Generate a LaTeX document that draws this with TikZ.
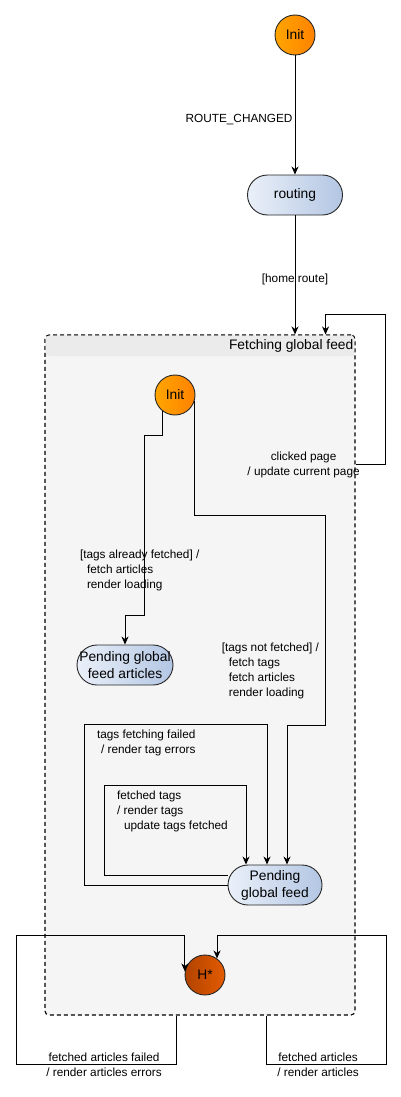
\documentclass[tikz,border=0pt]{standalone}
\usepackage{fontspec}
\setmainfont{Liberation Sans}
\usepackage{tikz}
\usetikzlibrary{arrows.meta,positioning,calc}

\definecolor{initleft}{HTML}{FFA500}
\definecolor{initright}{HTML}{FF8200}
\definecolor{histleft}{HTML}{B24300}
\definecolor{histright}{HTML}{E35B00}
\definecolor{pillleft}{HTML}{EAF0F9}
\definecolor{pillright}{HTML}{B3C6E3}
\definecolor{feedbody}{HTML}{F5F5F5}
\definecolor{feedhead}{HTML}{EBEBEB}

\newcommand{\lblsize}{\fontsize{11.8}{15}\selectfont}
\newcommand{\statesize}{\fontsize{13.8}{17}\selectfont}

\begin{document}
\begin{tikzpicture}[x=1pt,y=-1pt,
  trans/.style={-{Stealth[length=8pt,width=7pt,inset=2.5pt]},line width=1pt},
  lbl/.style={font=\lblsize,inner sep=2pt,align=left},
  startstate/.style={circle,draw=black!85,line width=0.9pt,minimum size=40pt,
    inner sep=0pt,left color=initleft,right color=initright,font=\statesize},
  histstate/.style={startstate,left color=histleft,right color=histright},
  statepill/.style={rectangle,rounded corners=20pt,draw=black!85,line width=0.9pt,
    minimum height=40pt,inner sep=0pt,align=center,
    left color=pillleft,right color=pillright,font=\statesize},
  container/.style={rectangle,rounded corners=4pt,draw=black,line width=1.1pt,
    dash pattern=on 4pt off 3pt,fill=feedbody,
    minimum width=310pt,minimum height=680pt,inner sep=0pt}]
\useasboundingbox (0,0) rectangle (400,1097);

% Top level states
\node[startstate] (init) at (295,35) {Init};
\node[statepill,minimum width=95pt] (routing) at (295,195) {routing};

% Composite state
\node[container] (feed) at (200,675) {};
\fill[feedhead,rounded corners=3.5pt] (45.6,335.6) rectangle (354.4,356);
\fill[feedhead] (45.6,345) rectangle (354.4,356);
\node[anchor=east,font=\statesize,inner sep=2pt] (feedtitle)
  at ($(feed.north east)+(0,11)$) {Fetching global feed};

% Inner states
\node[startstate] (finit) at (175,395) {Init};
\node[statepill,minimum width=96pt] (pga) at (125,665) {Pending global\\feed articles};
\node[statepill,minimum width=94pt] (pgf) at (275,885) {Pending\\global feed};
\node[histstate] (hstar) at (205,975) {H*};

% Transitions outside
\draw[trans] (init) -- node[lbl,pos=0.54,left] {ROUTE\_CHANGED} (routing);
\draw[trans] (routing) -- node[lbl,pos=0.54] {[home route]} (routing.south |- feed.north);
\draw[trans] ($(feed.north east)+(0,130)$)
    node[lbl,align=center,xshift=-52pt] {clicked page\\/ update current page}
  -- ++(30,0) |- ($(feed.north east)+(-30,-20)$) -- ($(feed.north east)+(-30,0)$);

% Transitions inside
\draw[trans] (finit.233) -- ++(0,24)
  -| node[lbl,pos=0.875,xshift=-5pt]
     {[tags already fetched] /\\\hspace*{7pt}fetch articles\\\hspace*{7pt}render loading}
     ++(-18,180)
  -| (pga.north);
\draw[trans] (finit.-18) -- ++(0,114)
  -| node[lbl,pos=0.87,anchor=east,xshift=-4pt]
     {[tags not fetched] /\\\hspace*{7pt}fetch tags\\\hspace*{7pt}fetch articles\\\hspace*{7pt}render loading}
     ++(131,210)
  -| ([xshift=12pt]pgf.north);
\draw[trans] (pgf.west) -| ++(-143,-161)
  -| node[lbl,pos=0,anchor=north west,xshift=10pt,yshift=-3pt]
     {tags fetching failed\\\hspace*{4pt}/ render tag errors}
     ([xshift=-8pt]pgf.north);
\draw[trans] ([yshift=10pt]pgf.west) -| ++(-123,-90)
  -| node[lbl,pos=0,anchor=north west,xshift=10pt,yshift=-3pt]
     {fetched tags\\/ render tags\\\hspace*{7pt}update tags fetched}
     ([xshift=-29pt]pgf.north);

% Transitions back to history
\draw[trans] ([xshift=-24pt]feed.south) -- ++(0,49)
  -| node[lbl,align=center,pos=0.225] {fetched articles failed\\/ render articles errors}
     ++(-160,-129)
  -| (hstar.170);
\draw[trans] ([xshift=66pt]feed.south) -- ++(0,49)
  -| node[lbl,align=center,pos=0.217] {fetched articles\\/ render articles}
     ++(120,-129)
  -| (hstar.54);
\end{tikzpicture}
\end{document}
